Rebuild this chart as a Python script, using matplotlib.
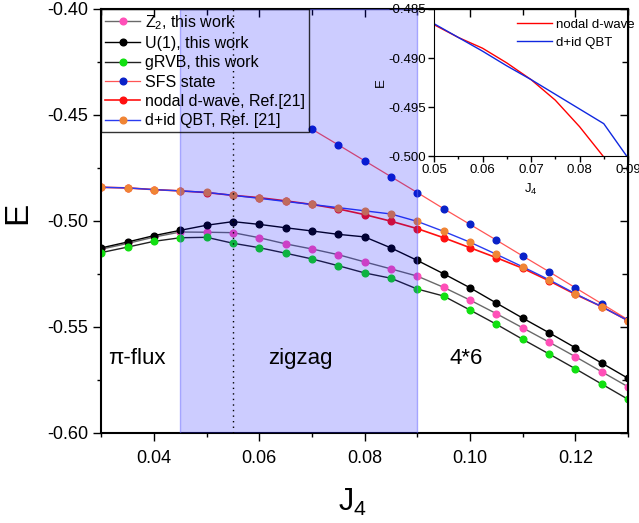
import matplotlib
matplotlib.use("Agg")
import matplotlib.pyplot as plt
from matplotlib.ticker import MultipleLocator

plt.rcParams['font.family'] = ['Liberation Sans', 'DejaVu Sans']
plt.rcParams['mathtext.fontset'] = 'custom'
plt.rcParams['mathtext.rm'] = 'Liberation Sans'
plt.rcParams['mathtext.it'] = 'Liberation Sans'

# J4 grid
j4 = [0.030, 0.035, 0.040, 0.045, 0.050, 0.055, 0.060, 0.065, 0.070, 0.075, 0.080,
      0.085, 0.090, 0.095, 0.100, 0.105, 0.110, 0.115, 0.120, 0.125, 0.130]

z2 = [-0.5133, -0.5106, -0.5076, -0.5052, -0.5053, -0.5055, -0.5079, -0.5108, -0.5132,
      -0.5159, -0.5193, -0.5226, -0.5260, -0.5313, -0.5373, -0.5437, -0.5504, -0.5571,
      -0.5640, -0.5711, -0.5782]
u1 = [-0.5127, -0.5099, -0.5069, -0.5044, -0.5020, -0.5003, -0.5016, -0.5032, -0.5047,
      -0.5063, -0.5075, -0.5127, -0.5186, -0.5249, -0.5315, -0.5387, -0.5458, -0.5527,
      -0.5598, -0.5670, -0.5742]
grvb = [-0.5149, -0.5123, -0.5096, -0.5079, -0.5077, -0.5105, -0.5126, -0.5152, -0.5179,
        -0.5211, -0.5245, -0.5270, -0.5321, -0.5354, -0.5420, -0.5487, -0.5558, -0.5627,
        -0.5697, -0.5769, -0.5841]

j4_sfs = [0.070, 0.075, 0.080, 0.085, 0.090, 0.095, 0.100, 0.105, 0.110, 0.115, 0.120,
          0.125, 0.130]
sfs = [-0.4567, -0.4641, -0.4716, -0.4791, -0.4866, -0.4942, -0.5016, -0.5090, -0.5165,
       -0.5239, -0.5315, -0.5390, -0.5466]

dwave = [-0.4841, -0.4844, -0.4852, -0.4858, -0.4866, -0.4879, -0.4890, -0.4905, -0.4922,
         -0.4943, -0.4970, -0.5001, -0.5036, -0.5079, -0.5126, -0.5173, -0.5223, -0.5282,
         -0.5346, -0.5404, -0.5470]
qbt = [-0.4841, -0.4844, -0.4852, -0.4858, -0.4865, -0.4879, -0.4893, -0.4908, -0.4922,
       -0.4937, -0.4952, -0.4967, -0.5002, -0.5049, -0.5100, -0.5157, -0.5216, -0.5277,
       -0.5343, -0.5404, -0.5470]

labels = ["Z$_2$, this work", "U(1), this work", "gRVB, this work", "SFS state",
          "nodal d-wave, Ref.[21]", "d+id QBT, Ref. [21]"]
phases = ["\u03c0-flux", "zigzag", "4*6"]
phase_x = [0.0313, 0.0617, 0.0962]
phase_y = -0.565

fig = plt.figure(figsize=(6.39, 5.23), dpi=100)
ax = fig.add_axes([0.1585, 0.1721, 0.8243, 0.8107])

ms = 4.8
ax.plot(j4, z2, '-', color='dimgray', lw=1, marker='o', ms=ms, mfc='#ff4fb8', mec='#ff4fb8', label=labels[0], zorder=2)
ax.plot(j4, u1, '-', color='black', lw=1, marker='o', ms=ms, mfc='black', mec='black', label=labels[1], zorder=2)
ax.plot(j4, grvb, '-', color='#222222', lw=1, marker='o', ms=ms, mfc='#11e011', mec='#11e011', label=labels[2], zorder=2)
ax.plot(j4_sfs, sfs, '-', color='#ff5555', lw=0.9, marker='o', ms=ms, mfc='#0a22c8', mec='#0a22c8', label=labels[3], zorder=2)
ax.plot(j4, dwave, '-', color='#ff1010', lw=1.2, marker='o', ms=ms, mfc='#ff1010', mec='#ff1010', label=labels[4], zorder=2)
ax.plot(j4, qbt, '-', color='#2a3cf0', lw=1, marker='o', ms=ms, mfc='#f08535', mec='#f08535', label=labels[5], zorder=2)

# zigzag region drawn over the data, like the original
ax.axvspan(0.045, 0.09, facecolor=(0, 0, 1, 0.2), edgecolor=(0.4, 0.4, 1, 0.5), lw=1, zorder=3)
ax.axvline(0.055, color='black', lw=1, ls=(0, (1, 3)), zorder=4)

for name, xx in zip(phases, phase_x):
    ax.text(xx, phase_y, name, fontsize=16, ha='left', va='center', zorder=5)

ax.set_xlim(0.03, 0.13)
ax.set_ylim(-0.60, -0.40)
ax.xaxis.set_minor_locator(MultipleLocator(0.01))
ax.yaxis.set_minor_locator(MultipleLocator(0.025))
ax.set_xticks([0.04, 0.06, 0.08, 0.10, 0.12])
ax.set_xticklabels(["0.04", "0.06", "0.08", "0.10", "0.12"])
ax.set_yticks([-0.60, -0.55, -0.50, -0.45, -0.40])
ax.set_yticklabels(["-0.60", "-0.55", "-0.50", "-0.45", "-0.40"])
ax.tick_params(which='both', direction='out', labelsize=13, width=1, top=False, right=False)
ax.tick_params(which='major', length=6)
ax.tick_params(which='minor', length=3)
ax.tick_params(axis='x', which='major', pad=6)
for s in ax.spines.values():
    s.set_linewidth(1.5)

# mirrored inward ticks on top and right
axt = ax.secondary_xaxis('top')
axt.xaxis.set_major_locator(MultipleLocator(0.02))
axt.xaxis.set_minor_locator(MultipleLocator(0.01))
axt.tick_params(which='both', direction='in', labeltop=False, width=1)
axt.tick_params(which='major', length=6)
axt.tick_params(which='minor', length=4)
axr = ax.secondary_yaxis('right')
axr.yaxis.set_major_locator(MultipleLocator(0.05))
axr.yaxis.set_minor_locator(MultipleLocator(0.025))
axr.tick_params(which='both', direction='in', labelright=False, width=1)
axr.tick_params(which='major', length=6)
axr.tick_params(which='minor', length=4)

ax.set_xlabel("J$_4$", fontsize=22, va='top')
ax.xaxis.set_label_coords(0.476, -0.126)
ax.set_ylabel("E", fontsize=24)
ax.yaxis.set_label_coords(-0.13, 0.52)

leg = ax.legend(loc='upper left', bbox_to_anchor=(0, 1), borderaxespad=0, fontsize=11.5,
                frameon=True, fancybox=False, handlelength=2.2, handletextpad=0.3,
                labelspacing=0.27, borderpad=0.25)
leg.get_frame().set_facecolor('none')
leg.get_frame().set_edgecolor('black')
leg.get_frame().set_linewidth(1)
leg.set_zorder(6)

# inset
ins = fig.add_axes([0.6792, 0.7017, 0.3036, 0.2811])
ins.patch.set_alpha(0)
ins.plot(j4, dwave, '-', color='red', lw=1, label="nodal d-wave")
ins.plot(j4, qbt, '-', color='#1028e0', lw=1, label="d+id QBT")
ins.set_xlim(0.05, 0.09)
ins.set_ylim(-0.500, -0.485)
ins.set_xticks([0.05, 0.06, 0.07, 0.08, 0.09])
ins.set_xticklabels(["0.05", "0.06", "0.07", "0.08", "0.09"])
ins.set_yticks([-0.500, -0.495, -0.490, -0.485])
ins.set_yticklabels(["-0.500", "-0.495", "-0.490", "-0.485"])
ins.xaxis.set_minor_locator(MultipleLocator(0.005))
ins.tick_params(which='both', labelsize=9.5, direction='out', width=1, pad=2)
ins.tick_params(which='major', length=4)
ins.tick_params(which='minor', length=2)
ins.set_xlabel("J$_4$", fontsize=9.5, labelpad=4)
ins.set_ylabel("E", fontsize=9.5, labelpad=1)
ins.legend(loc='upper right', bbox_to_anchor=(1.06, 0.97), frameon=False, fontsize=9.5,
           handlelength=2.6, handletextpad=0.3, borderaxespad=0, labelspacing=0.45)

fig.savefig("out.png", dpi=100)
